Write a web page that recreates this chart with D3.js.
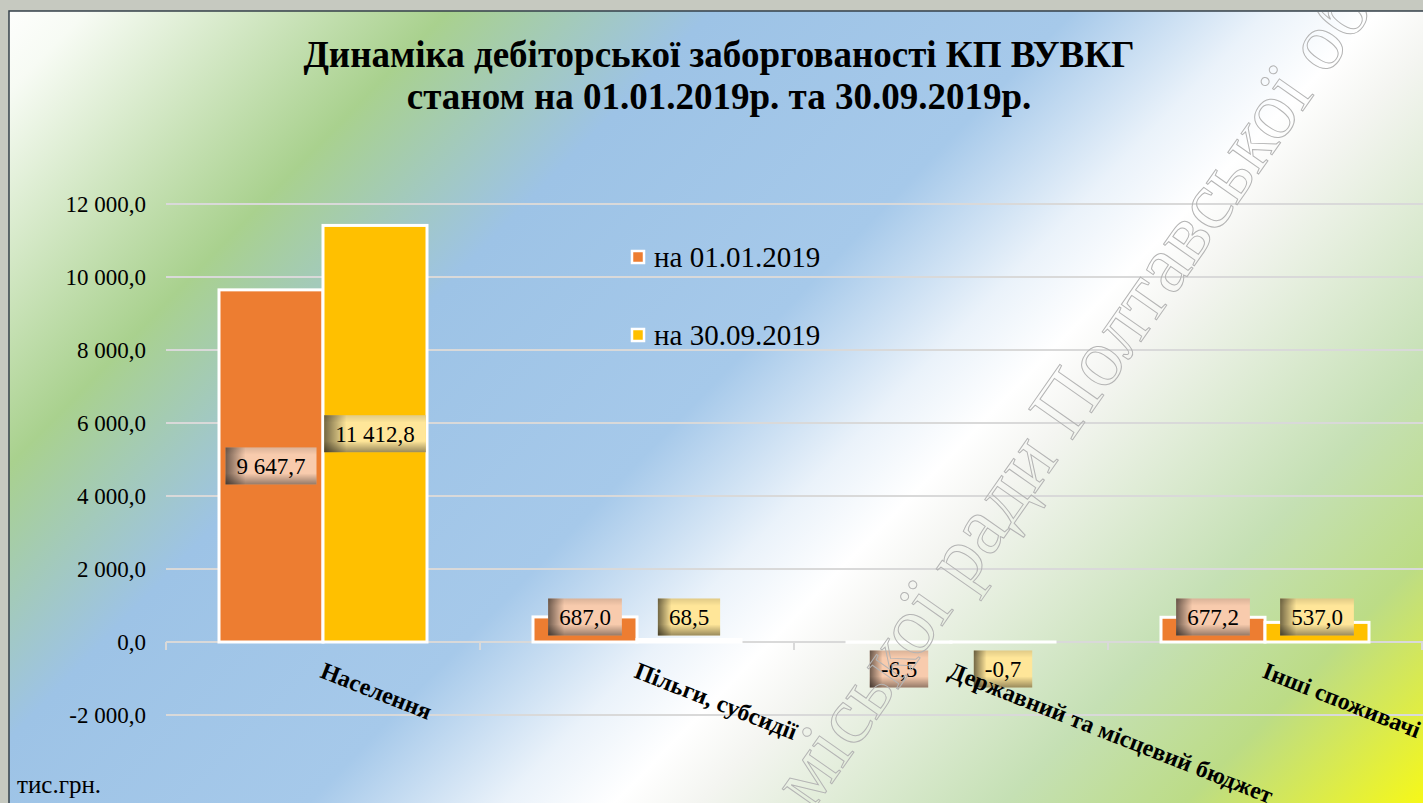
<!DOCTYPE html>
<html>
<head>
<meta charset="utf-8">
<script src="https://cdn.jsdelivr.net/npm/d3@7"></script>
<style>
  html, body { margin: 0; padding: 0; background: #c6c9c0; }
  svg { display: block; }
</style>
</head>
<body>
<div id="chart"></div>
<script>
var categories = ["Населення", "Пільги, субсидії", "Державний та місцевий бюджет", "Інші споживачі"];
var seriesNames = ["на 01.01.2019", "на 30.09.2019"];
var values2019jan = [9647.7, 687.0, -6.5, 677.2];
var values2019sep = [11412.8, 68.5, -0.7, 537.0];
var yTicks = [-2000, 0, 2000, 4000, 6000, 8000, 10000, 12000];
var titleLines = ["Динаміка дебіторської заборгованості КП ВУВКГ", "станом на 01.01.2019р. та 30.09.2019р."];
var unitLabel = "тис.грн.";
var watermarkText = "міської ради Полтавської області";

var width = 1423, height = 803;
var serif = "'Liberation Serif', 'Times New Roman', 'DejaVu Serif', serif";
var colors = ["#ed7d31", "#ffc000"];
var labelFills = ["#f8cbad", "#ffe699"];

var svg = d3.select("#chart").append("svg").attr("width", width).attr("height", height)
    .style("font-family", serif);
var defs = svg.append("defs");

// background gradient, diagonal bands
var ang = 44 * Math.PI / 180;
var L = width * Math.cos(ang) + height * Math.sin(ang);
var bg = defs.append("linearGradient").attr("id", "bg").attr("gradientUnits", "userSpaceOnUse")
    .attr("x1", 0).attr("y1", 0).attr("x2", L * Math.cos(ang)).attr("y2", L * Math.sin(ang));
[[0, "#ffffff"], [70, "#f7fbf4"], [330, "#a9d18e"], [520, "#9dc3e6"], [780, "#a6c9ea"],
 [920, "#eaf2fa"], [1000, "#ffffff"], [1060, "#f4f5f1"], [1280, "#c5e0b4"], [1410, "#bcdc86"], [L, "#f6f818"]]
  .forEach(function (s) {
    bg.append("stop").attr("offset", s[0] / L).attr("stop-color", s[1]);
  });

// label shading
var shadeH = defs.append("linearGradient").attr("id", "shadeH").attr("x1", 0).attr("x2", 1).attr("y1", 0).attr("y2", 0);
shadeH.append("stop").attr("offset", 0).attr("stop-color", "#000").attr("stop-opacity", 0.55);
shadeH.append("stop").attr("offset", 0.22).attr("stop-color", "#000").attr("stop-opacity", 0);
var shadeV = defs.append("linearGradient").attr("id", "shadeV").attr("x1", 0).attr("x2", 0).attr("y1", 0).attr("y2", 1);
shadeV.append("stop").attr("offset", 0).attr("stop-color", "#000").attr("stop-opacity", 0.12);
shadeV.append("stop").attr("offset", 0.2).attr("stop-color", "#000").attr("stop-opacity", 0);
shadeV.append("stop").attr("offset", 0.7).attr("stop-color", "#000").attr("stop-opacity", 0);
shadeV.append("stop").attr("offset", 1).attr("stop-color", "#000").attr("stop-opacity", 0.4);

defs.append("clipPath").attr("id", "frameClip").append("rect")
    .attr("x", 10).attr("y", 12).attr("width", width).attr("height", height);

svg.append("rect").attr("x", 9).attr("y", 11).attr("width", width).attr("height", height)
    .attr("fill", "url(#bg)").attr("stroke", "#34404a").attr("stroke-width", 1.5);

var chart = svg.append("g").attr("clip-path", "url(#frameClip)");

// scales
var x0 = d3.scaleBand().domain(categories).range([166, 1422]);
var x1 = d3.scaleBand().domain([0, 1]).range([53, 261]);
var y = d3.scaleLinear().domain([-2000, 12000]).range([715, 204]);

var locale = d3.formatLocale({ decimal: ",", thousands: "\u00a0", grouping: [3], minus: "-" });
var fmt = locale.format(",.1f");

// gridlines
chart.append("g").selectAll("line").data(yTicks).enter().append("line")
    .attr("x1", 166).attr("x2", width).attr("y1", function (d) { return y(d); }).attr("y2", function (d) { return y(d); })
    .attr("stroke", "#d9d9d9").attr("stroke-width", 2);

// category ticks on the zero line
var bounds = categories.map(function (c) { return x0(c); }).concat([x0.range()[1]]);
chart.append("g").selectAll("line").data(bounds).enter().append("line")
    .attr("x1", function (d) { return d; }).attr("x2", function (d) { return d; })
    .attr("y1", y(0)).attr("y2", y(0) + 8)
    .attr("stroke", "#d9d9d9").attr("stroke-width", 2);

// y axis labels
var yAxis = d3.axisLeft(y).tickValues(yTicks).tickFormat(fmt).tickSize(0).tickPadding(0);
var yG = chart.append("g").attr("transform", "translate(146,0)").call(yAxis);
yG.attr("font-family", null).attr("font-size", null);
yG.select(".domain").remove();
yG.selectAll("text").style("font-size", "23px").attr("fill", "#000");

// bars
var table = categories.map(function (c, i) {
  return { cat: c, vals: [values2019jan[i], values2019sep[i]] };
});
var groups = chart.append("g").selectAll("g").data(table).enter().append("g")
    .attr("transform", function (d) { return "translate(" + x0(d.cat) + ",0)"; });
groups.selectAll("rect").data(function (d) { return d.vals.map(function (v, s) { return { v: v, s: s }; }); })
  .enter().append("rect")
    .attr("x", function (d) { return x1(d.s); })
    .attr("width", x1.bandwidth())
    .attr("y", function (d) { return Math.min(y(d.v), y(0)); })
    .attr("height", function (d) { return Math.abs(y(d.v) - y(0)); })
    .attr("fill", function (d) { return colors[d.s]; })
    .attr("stroke", "#fff").attr("stroke-width", 3);

// data labels
groups.each(function (d) {
  var g = d3.select(this);
  d.vals.forEach(function (v, s) {
    var mid = (y(v) + y(0)) / 2;
    var cy = v >= 0 ? Math.min(mid, y(0) - 25) : Math.max(mid, y(0) + 27);
    var cx = x1(s) + x1.bandwidth() / 2;
    var lg = g.append("g").attr("transform", "translate(" + cx + "," + cy + ")");
    var box = lg.append("rect");
    var t = lg.append("text").text(fmt(v)).attr("text-anchor", "middle").attr("dy", "0.35em")
        .style("font-size", "23px").attr("fill", "#000");
    var w = t.node().getComputedTextLength() + 22, h = 37;
    box.attr("x", -w / 2).attr("y", -h / 2).attr("width", w).attr("height", h).attr("fill", labelFills[s]);
    lg.insert("rect", "text").attr("x", -w / 2).attr("y", -h / 2).attr("width", w).attr("height", h)
        .attr("fill", "url(#shadeH)");
    lg.insert("rect", "text").attr("x", -w / 2).attr("y", -h / 2).attr("width", w).attr("height", h)
        .attr("fill", "url(#shadeV)");
  });
});

// category labels
chart.append("g").selectAll("text").data(categories).enter().append("text")
    .attr("transform", function (d) { return "translate(" + (x0(d) + x0.bandwidth() / 2 - 4) + ",677) rotate(21.5)"; })
    .style("font-size", "24px").attr("font-weight", "bold").attr("fill", "#000")
    .text(function (d) { return d; });

// legend
var legend = chart.append("g").selectAll("g").data(seriesNames).enter().append("g")
    .attr("transform", function (d, i) { return "translate(632," + (257 + i * 78) + ")"; });
legend.append("rect").attr("x", 0).attr("y", -6).attr("width", 12).attr("height", 12)
    .attr("fill", function (d, i) { return colors[i]; }).attr("stroke", "#fff").attr("stroke-width", 2.5);
legend.append("text").attr("x", 22).attr("dy", "0.35em").style("font-size", "29px").text(function (d) { return d; });

// title
chart.append("g").selectAll("text").data(titleLines).enter().append("text")
    .attr("x", 719).attr("y", function (d, i) { return 67 + i * 42; })
    .attr("text-anchor", "middle").style("font-size", "37px").attr("font-weight", "bold")
    .text(function (d) { return d; });

// unit
chart.append("text").attr("x", 17).attr("y", 793).style("font-size", "25px").text(unitLabel);

// watermark
chart.append("text").attr("transform", "translate(812,812) rotate(-55)")
    .style("font-size", "82px").attr("fill", "none").attr("stroke", "#b4b4b4").attr("stroke-width", 1)
    .text(watermarkText);
</script>
</body>
</html>
